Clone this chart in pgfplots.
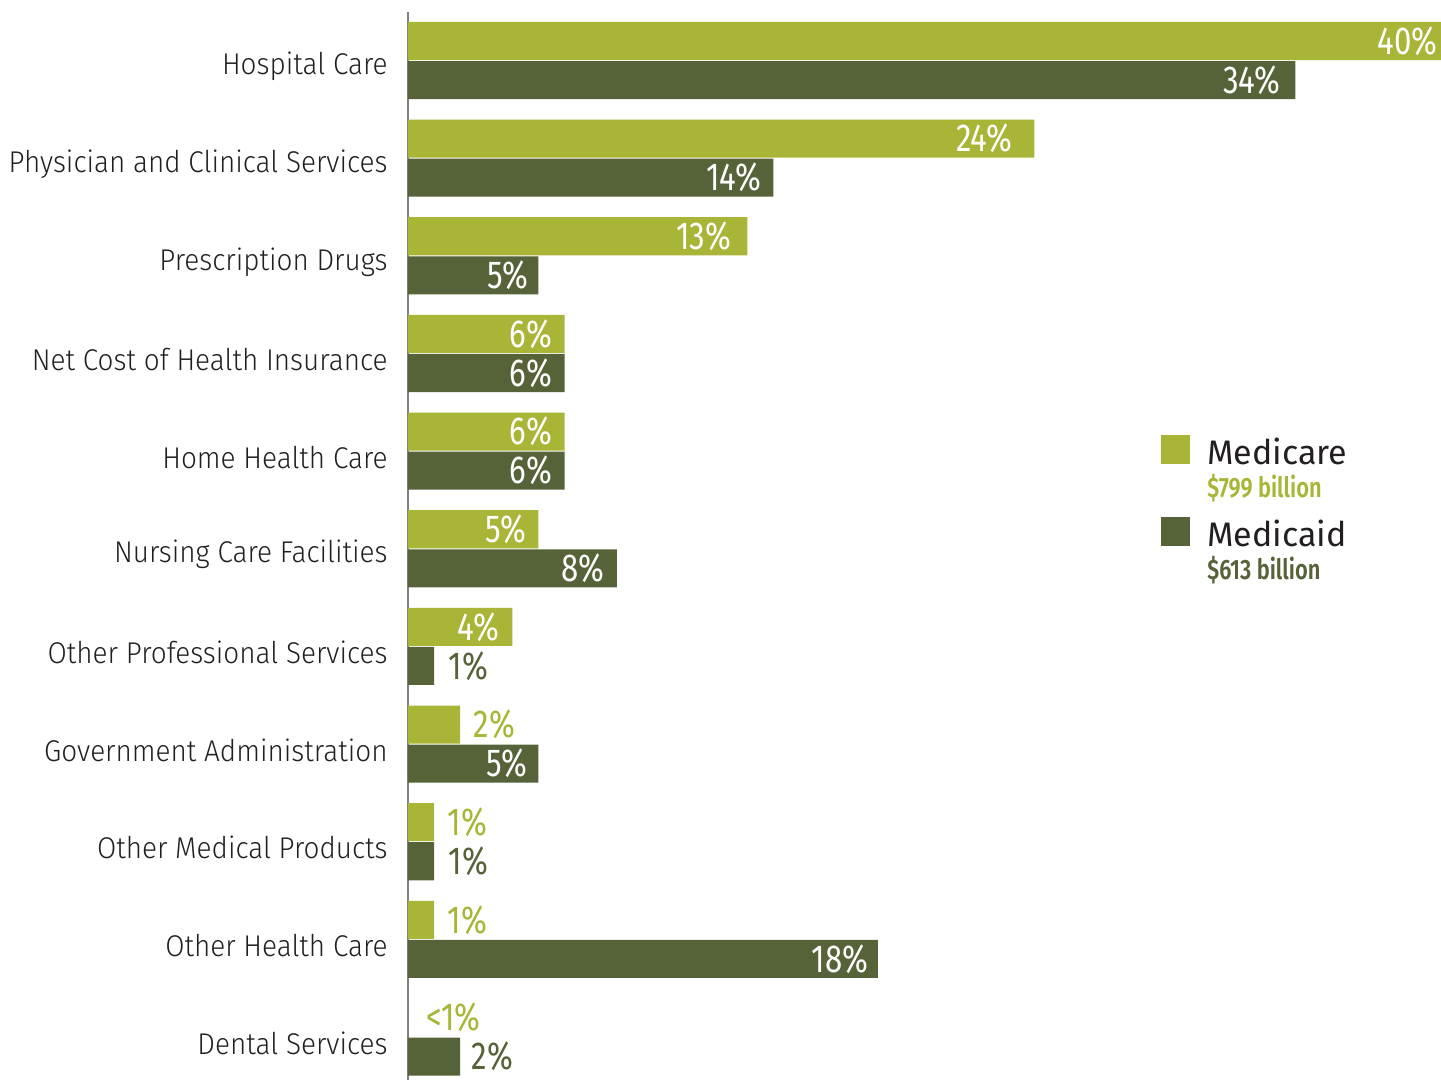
\documentclass[border=0pt]{standalone}
\usepackage{fontspec}
\usepackage{pgfplots}
\pgfplotsset{compat=1.18}
\setmainfont{Fira Sans}
\newfontfamily\lightfont[FakeStretch=0.93]{Fira Sans Light}
\newfontfamily\condfont[FakeStretch=0.8]{Fira Sans}
\newfontfamily\condbold[FakeStretch=0.78]{Fira Sans SemiBold}
\definecolor{medicare}{HTML}{A8B536}
\definecolor{medicaid}{HTML}{566238}
\definecolor{axisgray}{HTML}{808080}
\definecolor{txt}{HTML}{231F20}
\newlength\px \setlength\px{0.5pt}
\begin{document}
\begin{tikzpicture}
\begin{axis}[
  name=ax,
  scale only axis, width=1033\px, height=1068\px,
  xmin=0, xmax=39.58, ymin=-0.44, ymax=10.497,
  clip=false,
  axis x line=none, axis y line*=left,
  y axis line style={draw=axisgray, line width=1.3\px, -},
  ytick={0,...,10},
  yticklabels={Dental Services, Other Health Care, Other Medical Products, Government Administration, Other Professional Services, {Nursing Care Facilities\hspace{6\px}}, Home Health Care, Net Cost of Health Insurance, Prescription Drugs, Physician and Clinical Services, Hospital Care},
  major tick length=0pt,
  yticklabel style={font=\lightfont\fontsize{15}{18}\selectfont, color=txt, anchor=east, inner sep=0pt, xshift=-20\px, yshift=-6\px},
  legend style={at={(axis cs:28.85,6.18)}, anchor=north west, draw=none, fill=none, inner sep=0pt,
    row sep=12\px, font=\fontsize{17}{16.5}\selectfont, text=txt,
    cells={anchor=west, align=left, inner sep=0pt},
    /tikz/every odd column/.append style={column sep=13\px}},
  nodes near coords,
  point meta=explicit symbolic,
  visualization depends on={value \thisrow{anc} \as \anc},
  visualization depends on={value \thisrow{sh} \as \sh},
  visualization depends on={value \thisrow{tc} \as \tc},
  every node near coord/.append style={anchor=\anc, xshift=\sh\px, text=\tc, inner sep=0pt,
    font=\condfont\fontsize{19.5}{22}\selectfont},
]
\addplot[xbar, bar width=0.39, bar shift=0.2, fill=medicare, draw=none,
  every node near coord/.append style={yshift=19.5\px},
  legend image code/.code={\path[fill=none,draw=none] (0,-34.5\px) rectangle (29\px,34.5\px);\fill[medicare] (0,5.5\px) rectangle (29\px,34.5\px);}]
  table[x=v, y=y, meta=lab] {
y  v  lab    anc  sh   tc
10 40 40\%   east -14  white
9  24 24\%   east -22  white
8  13 13\%   east -16  white
7  6  6\%    east -12  white
6  6  6\%    east -12  white
5  5  5\%    east -12  white
4  4  4\%    east -13  white
3  2  2\%    west 13   medicare
2  1  1\%    west 13   medicare
1  1  1\%    west 13   medicare
0  0  <1\%   west 18   medicare
};
\addlegendentry{Medicare\\{\condbold\fontsize{14}{16.5}\selectfont\color{medicare}\$799 billion}}
\addplot[xbar, bar width=0.39, bar shift=-0.2, fill=medicaid, draw=none,
  every node near coord/.append style={yshift=-19.5\px},
  legend image code/.code={\path[fill=none,draw=none] (0,-34.5\px) rectangle (29\px,34.5\px);\fill[medicaid] (0,5.5\px) rectangle (29\px,34.5\px);}]
  table[x=v, y=y, meta=lab] {
y  v  lab    anc  sh   tc
10 34 34\%   east -15  white
9  14 14\%   east -12  white
8  5  5\%    east -10  white
7  6  6\%    east -12  white
6  6  6\%    east -12  white
5  8  8\%    east -12  white
4  1  1\%    west 14   medicaid
3  5  5\%    east -11  white
2  1  1\%    west 14   medicaid
1  18 18\%   east -9   white
0  2  2\%    west 11   medicaid
};
\addlegendentry{Medicaid\\{\condbold\fontsize{14}{16.5}\selectfont\color{medicaid}\$613 billion}}
\end{axis}
\pgfresetboundingbox
\path[use as bounding box] ([xshift=-408\px]ax.south west) rectangle ([yshift=12\px]ax.north east);
\end{tikzpicture}
\end{document}
